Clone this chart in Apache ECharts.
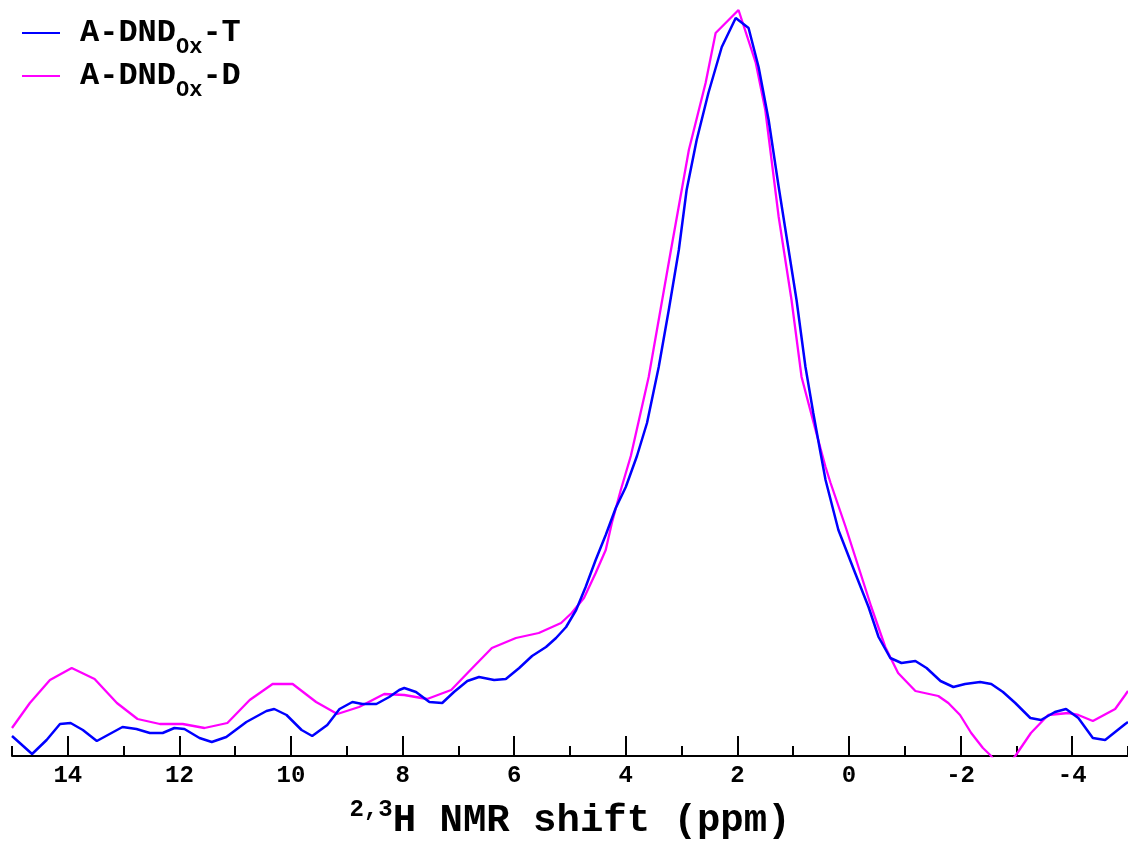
<!DOCTYPE html>
<html>
<head>
<meta charset="utf-8">
<script src="https://cdn.jsdelivr.net/npm/echarts@6/dist/echarts.min.js"></script>
<style>
html,body{margin:0;padding:0;background:#fff;}
#chart{width:1128px;height:841px;}
</style>
</head>
<body>
<div id="chart"></div>
<script>
// ---- data (ppm, intensity in arbitrary units) ----
const seriesNames = ['A-DNDOx-T', 'A-DNDOx-D'];
const ppmT = [15.00,14.64,14.38,14.14,13.95,13.73,13.48,13.02,12.77,12.53,12.30,12.09,11.91,11.64,11.42,11.16,10.80,10.44,10.30,10.08,9.81,9.62,9.35,9.13,8.90,8.72,8.47,8.24,8.06,7.97,7.76,7.52,7.29,7.08,6.84,6.63,6.36,6.15,5.91,5.68,5.43,5.25,5.07,4.89,4.72,4.54,4.36,4.18,4.00,3.80,3.62,3.41,3.23,3.05,2.91,2.73,2.52,2.28,2.03,1.80,1.62,1.44,1.26,0.94,0.78,0.64,0.51,0.42,0.19,-0.11,-0.35,-0.53,-0.74,-0.94,-1.19,-1.39,-1.64,-1.87,-2.08,-2.35,-2.55,-2.76,-2.98,-3.25,-3.44,-3.69,-3.89,-4.11,-4.37,-4.59,-4.77,-4.95,-5.00];
const intT = [20,2,16,32,33,26,15,29,27,23,23,28,27,18,14,19,34,45,47,41,26,20,31,47,54,52,52,59,66,68,64,54,53,64,75,79,76,77,88,100,109,118,129,146,169,196,221,248,269,300,333,389,446,506,566,616,663,709,738,728,689,636,569,456,389,343,303,276,226,183,149,119,98,93,95,88,75,69,72,74,72,64,53,38,36,44,47,38,18,16,24,32,34];
const ppmD = [15.00,14.68,14.32,13.93,13.52,13.12,12.75,12.35,11.94,11.55,11.14,10.74,10.33,9.97,9.55,9.17,8.78,8.33,7.97,7.56,7.13,6.75,6.40,5.97,5.56,5.16,4.97,4.75,4.54,4.36,4.25,4.09,3.91,3.59,3.20,2.87,2.57,2.39,1.98,1.67,1.50,1.26,1.03,0.85,0.60,0.42,0.33,0.06,-0.17,-0.40,-0.65,-0.88,-1.19,-1.60,-1.78,-1.99,-2.19,-2.40,-2.53,-2.75,-2.98,-3.26,-3.57,-3.93,-4.11,-4.37,-4.77,-4.95,-5.00];
const intD = [28,53,76,88,77,53,37,32,32,28,33,56,72,72,54,42,49,62,61,57,66,88,108,118,123,133,143,158,183,206,233,266,300,379,503,606,673,723,746,693,646,539,456,379,326,289,273,229,189,149,109,83,65,60,53,41,23,8,1,-14,0,23,41,43,41,35,47,61,65];
const majorTicks = [-4,-2,0,2,4,6,8,10,12,14];
const minorTicks = [-5,-3,-1,1,3,5,7,9,11,13,15];

const FONT = '"Liberation Mono", "Courier New", monospace';
const chart = echarts.init(document.getElementById('chart'), null, {renderer: 'canvas'});

const legendText = {
  fontFamily: FONT, fontWeight: 'bold', fontSize: 32, color: '#000',
  padding: [0, 0, 0, 15],
  rich: {
    main: {fontFamily: FONT, fontWeight: 'bold', fontSize: 32, color: '#000', lineHeight: 32},
    sub: {fontFamily: FONT, fontWeight: 'bold', fontSize: 22, color: '#000', lineHeight: 22, padding: [28, 0, 0, 0]}
  }
};
function legendFmt(name) {
  const m = name.match(/^(A-DND)(Ox)(-.*)$/);
  return '{main|' + m[1] + '}{sub|' + m[2] + '}{main|' + m[3] + '}';
}

const option = {
  animation: false,
  backgroundColor: '#fff',
  grid: {left: 12, right: 0, top: 0, bottom: 85, containLabel: false, outerBoundsMode: 'none'},
  legend: [
    {data: [seriesNames[0]], left: 17, top: 3, orient: 'vertical', icon: 'rect', itemWidth: 38, itemHeight: 2,
     textStyle: legendText, formatter: legendFmt},
    {data: [seriesNames[1]], left: 17, top: 46, orient: 'vertical', icon: 'rect', itemWidth: 38, itemHeight: 2,
     textStyle: legendText, formatter: legendFmt}
  ],
  xAxis: [
    {
      type: 'value', min: -5, max: 15, inverse: true, position: 'bottom',
      axisLine: {show: true, onZero: false, lineStyle: {color: '#000', width: 2}},
      axisTick: {show: true, inside: true, length: 20, lineStyle: {color: '#000', width: 2}, customValues: majorTicks},
      axisLabel: {show: true, customValues: majorTicks, fontFamily: FONT, fontWeight: 'bold', fontSize: 24, color: '#000', margin: 8},
      splitLine: {show: false},
      name: '{sup|2,3}{main|H NMR shift (ppm)}',
      nameLocation: 'middle', nameGap: 42,
      nameTextStyle: {
        fontFamily: FONT, fontWeight: 'bold', fontSize: 39, color: '#000',
        rich: {
          sup: {fontFamily: FONT, fontWeight: 'bold', fontSize: 24, color: '#000', padding: [0, 0, 22, 0]},
          main: {fontFamily: FONT, fontWeight: 'bold', fontSize: 39, color: '#000'}
        }
      }
    },
    {
      type: 'value', min: -5, max: 15, inverse: true, position: 'bottom',
      axisLine: {show: false, onZero: false},
      axisTick: {show: true, inside: true, length: 10, lineStyle: {color: '#000', width: 2}, customValues: minorTicks},
      axisLabel: {show: false},
      splitLine: {show: false}
    }
  ],
  yAxis: {type: 'value', min: 0, max: 756, show: false, splitLine: {show: false}},
  series: [
    {
      name: seriesNames[0], type: 'line', xAxisIndex: 0,
      data: ppmT.map((p, i) => [p, intT[i]]),
      showSymbol: false, symbol: 'none', smooth: false, clip: true,
      lineStyle: {color: '#0000ff', width: 2.5}, itemStyle: {color: '#0000ff'}, z: 3
    },
    {
      name: seriesNames[1], type: 'line', xAxisIndex: 0,
      data: ppmD.map((p, i) => [p, intD[i]]),
      showSymbol: false, symbol: 'none', smooth: false, clip: true,
      lineStyle: {color: '#ff00ff', width: 2.3}, itemStyle: {color: '#ff00ff'}, z: 2
    }
  ]
};
chart.setOption(option);
</script>
</body>
</html>
